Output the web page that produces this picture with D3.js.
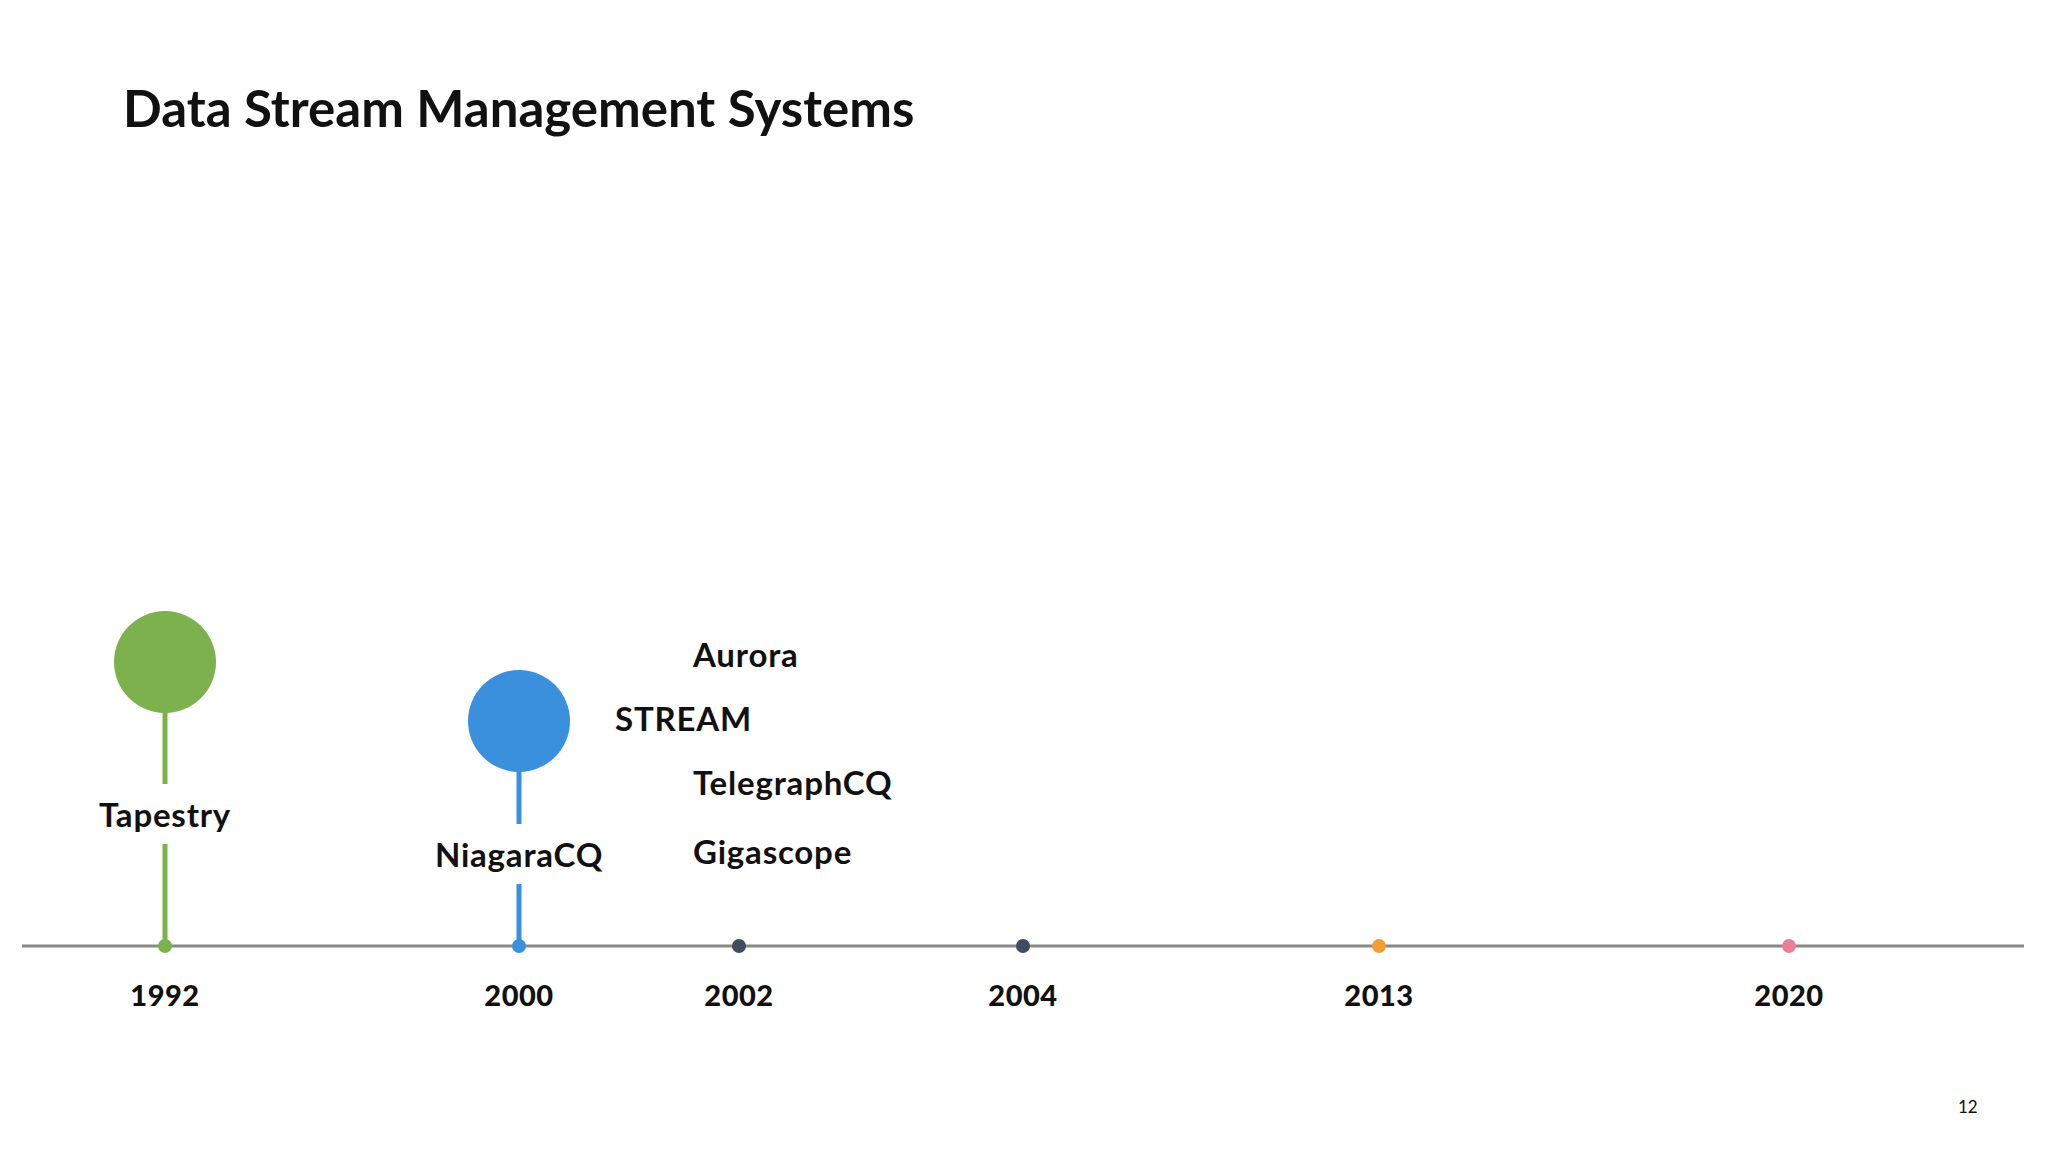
<!DOCTYPE html>
<html><head><meta charset="utf-8">
<script src="https://cdn.jsdelivr.net/npm/d3@7"></script>
<style>body{margin:0;background:#fff}svg{display:block}text{font-family:Lato,"Open Sans",sans-serif}</style>
</head><body><svg id="c" width="2048" height="1152"></svg>
<script>
const years = ["1992","2000","2002","2004","2013","2020"];
const yearColors = ["#7db14e","#3a90dd","#3f4d5e","#3f4d5e","#f0a030","#ea8096"];
const bubbleYears = ["1992","2000"];
const bubbleNames = ["Tapestry","NiagaraCQ"];
const listNames = ["Aurora","STREAM","TelegraphCQ","Gigascope"];

const svg = d3.select("#c");
// slide layout: hand-placed, non-uniform spacing along the timeline
const x = d3.scaleOrdinal().domain(years).range([165,519,739,1023,1379,1789]);
const axisY = 946;
const color = d3.scaleOrdinal().domain(years).range(yearColors);

svg.append("text").attr("x",123).attr("y",127).attr("font-size",51).attr("font-weight",700)
  .attr("fill","#111").text("Data Stream Management Systems");

svg.append("line").attr("x1",22).attr("x2",2024).attr("y1",axisY).attr("y2",axisY)
  .attr("stroke","#888").attr("stroke-width",3);

const bubbleCY = [662,721], labelY=[827,867];
bubbleYears.forEach((yr,i)=>{
  const cx = x(yr), c = color(yr);
  svg.append("line").attr("x1",cx).attr("x2",cx).attr("y1",bubbleCY[i]).attr("y2",axisY)
    .attr("stroke",c).attr("stroke-width",5);
  svg.append("circle").attr("cx",cx).attr("cy",bubbleCY[i]).attr("r",51).attr("fill",c);
  const t = svg.append("text").attr("x",cx).attr("y",labelY[i]).attr("text-anchor","middle")
    .attr("font-size",33).attr("letter-spacing",0.8).attr("font-weight",700).attr("fill","#111").text(bubbleNames[i]);
  const b = t.node().getBBox();
  svg.insert("rect","text:last-of-type").attr("x",b.x-4).attr("y",b.y-10).attr("width",b.width+8).attr("height",b.height+20).attr("fill","#fff");
});

const listX = [693,615,693,693], listY=[667,731,795,864];
listNames.forEach((n,i)=>{
  svg.append("text").attr("x",listX[i]).attr("y",listY[i]).attr("font-size",33).attr("letter-spacing",0.8).attr("font-weight",700)
    .attr("fill","#111").text(n);
});

svg.selectAll(".dot").data(years).join("circle").attr("cx",d=>x(d)).attr("cy",axisY).attr("r",7).attr("fill",d=>color(d));
svg.selectAll(".yl").data(years).join("text").attr("x",d=>x(d)).attr("y",1006).attr("text-anchor","middle")
  .attr("font-size",29).attr("font-weight",900).attr("letter-spacing",0.5).attr("fill","#111").text(d=>d);

svg.append("text").attr("x",1958).attr("y",1113).attr("font-size",17).attr("fill","#111").text("12");
</script></body></html>
